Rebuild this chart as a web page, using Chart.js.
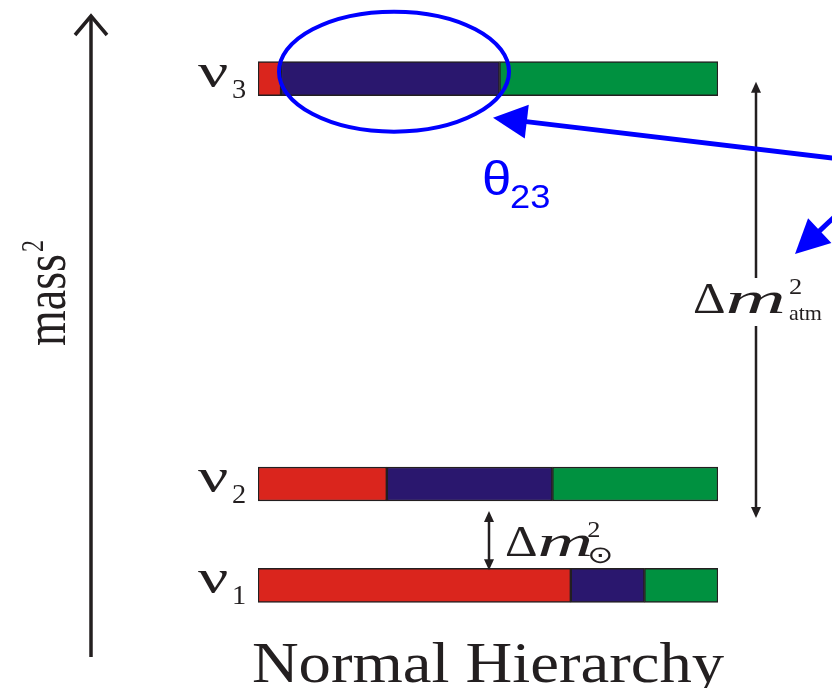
<!DOCTYPE html>
<html>
<head>
<meta charset="utf-8">
<script src="https://cdn.jsdelivr.net/npm/chart.js@4/dist/chart.umd.min.js"></script>
<style>
  body { margin: 0; background: #fff; }
  canvas { display: block; }
</style>
</head>
<body>
<canvas id="chart" width="832" height="688"></canvas>
<script>
// mass eigenstates, their mass² level (arbitrary units) and flavour content
const states = ['1', '2', '3'];
const massLevels = [0, 1, 5];
const eShare = [0.68, 0.28, 0.05];
const muShare = [0.16, 0.36, 0.475];
const tauShare = [0.16, 0.36, 0.475];
const flavourColors = ['#da251d', '#2a176e', '#009140'];

const ink = '#231f20';
const serif = '"Liberation Serif", "DejaVu Serif", serif';

function toPoints(shares) {
    return shares.map((v, i) => ({ x: v, y: massLevels[i] }));
}

function arrowHead(ctx, x, y, dx, dy, len, half) {
    const n = Math.hypot(dx, dy);
    const ux = dx / n, uy = dy / n;
    ctx.beginPath();
    ctx.moveTo(x, y);
    ctx.lineTo(x - ux * len - uy * half, y - uy * len + ux * half);
    ctx.lineTo(x - ux * len + uy * half, y - uy * len - ux * half);
    ctx.closePath();
    ctx.fill();
}

function blueArrow(ctx, x0, y0, x1, y1) {
    const dx = x1 - x0, dy = y1 - y0;
    const n = Math.hypot(dx, dy);
    ctx.beginPath();
    ctx.moveTo(x0, y0);
    ctx.lineTo(x1 - dx / n * 25, y1 - dy / n * 25);
    ctx.stroke();
    arrowHead(ctx, x1, y1, dx, dy, 34, 17);
}

// text stretched horizontally by sx, returns drawn width
function wideText(ctx, s, x, y, font, sx) {
    ctx.font = font;
    ctx.save();
    ctx.translate(x, y);
    ctx.scale(sx, 1);
    ctx.fillText(s, 0, 0);
    ctx.restore();
    return ctx.measureText(s).width * sx;
}

// Δm² label: upright Δ, italic m, superscript 2 and a subscript
function deltaLabel(ctx, x, base, size, mStretch, gap, sub, subFont, subStretch) {
    ctx.textBaseline = 'alphabetic';
    ctx.textAlign = 'left';
    ctx.fillStyle = ink;
    const x2 = x + wideText(ctx, 'Δ', x, base, size + 'px ' + serif, 1.15);
    const x3 = x2 + wideText(ctx, 'm', x2, base, 'italic ' + size + 'px ' + serif, mStretch) + gap;
    wideText(ctx, '2', x3, base - size * 0.44, Math.round(size * 0.55) + 'px ' + serif, 1.1);
    wideText(ctx, sub, x3, base + size * 0.15, subFont, subStretch);
}

const annotations = {
    id: 'annotations',
    afterDatasetsDraw(chart) {
        const ctx = chart.ctx;
        const ys = chart.scales.y;
        const yPix = massLevels.map(v => ys.getPixelForValue(v));
        ctx.save();

        // mass² axis
        ctx.strokeStyle = ink;
        ctx.lineWidth = 3.5;
        ctx.beginPath();
        ctx.moveTo(91, 657);
        ctx.lineTo(91, 16);
        ctx.stroke();
        ctx.beginPath();
        ctx.moveTo(75, 35);
        ctx.lineTo(91, 16);
        ctx.lineTo(107, 35);
        ctx.stroke();

        ctx.save();
        ctx.translate(65, 300);
        ctx.rotate(-Math.PI / 2);
        ctx.scale(1, 1.3);
        ctx.fillStyle = ink;
        ctx.font = '46px ' + serif;
        ctx.textAlign = 'center';
        ctx.fillText('mass', 0, 0);
        const w = ctx.measureText('mass').width;
        ctx.textAlign = 'left';
        ctx.font = '24px ' + serif;
        ctx.fillText('2', w / 2 + 2, -17);
        ctx.restore();

        // state labels ν_i
        ctx.fillStyle = ink;
        ctx.textAlign = 'left';
        states.forEach((s, i) => {
            wideText(ctx, 'ν', 198, yPix[i] + 8, '48px ' + serif, 1.4);
            wideText(ctx, s, 232, yPix[i] + 19, '27px ' + serif, 1.05);
        });

        // atmospheric splitting
        const ax = 756;
        ctx.lineWidth = 2.5;
        ctx.beginPath();
        ctx.moveTo(ax, yPix[2] + 10);
        ctx.lineTo(ax, 278);
        ctx.moveTo(ax, 326);
        ctx.lineTo(ax, yPix[1] + 26);
        ctx.stroke();
        arrowHead(ctx, ax, yPix[2] + 3, 0, -1, 11, 5);
        arrowHead(ctx, ax, yPix[1] + 34, 0, 1, 11, 5);
        deltaLabel(ctx, 693, 313, 44, 1.9, 3, 'atm', '22px ' + serif, 1);

        // solar splitting
        const sx = 489;
        ctx.beginPath();
        ctx.moveTo(sx, yPix[1] + 34);
        ctx.lineTo(sx, yPix[0] - 24);
        ctx.stroke();
        arrowHead(ctx, sx, yPix[1] + 27, 0, -1, 11, 5);
        arrowHead(ctx, sx, yPix[0] - 15, 0, 1, 11, 5);
        deltaLabel(ctx, 505, 556, 44, 1.75, -6, '⊙', '24px "DejaVu Sans", sans-serif', 1.3);

        // θ23 highlight
        ctx.strokeStyle = '#0000ff';
        ctx.fillStyle = '#0000ff';
        ctx.lineWidth = 4;
        ctx.beginPath();
        ctx.ellipse(394, yPix[2] - 7, 115, 60, 0, 0, Math.PI * 2);
        ctx.stroke();
        ctx.lineWidth = 5;
        blueArrow(ctx, 900, 166, 493, yPix[2] + 39);
        blueArrow(ctx, 900, 155, 795, 254);
        wideText(ctx, 'θ', 482, 195, '48px "Liberation Sans", Arial, sans-serif', 1.1);
        wideText(ctx, '23', 510, 208, '33px "Liberation Sans", Arial, sans-serif', 1.1);

        // caption
        ctx.fillStyle = ink;
        ctx.font = '58px ' + serif;
        const cw = ctx.measureText('Normal Hierarchy').width * 1.115;
        wideText(ctx, 'Normal Hierarchy', 488 - cw / 2, 682, '58px ' + serif, 1.115);

        ctx.restore();
    }
};

new Chart(document.getElementById('chart'), {
    type: 'bar',
    data: {
        datasets: [
            { label: 'e', data: toPoints(eShare), backgroundColor: flavourColors[0] },
            { label: 'μ', data: toPoints(muShare), backgroundColor: flavourColors[1] },
            { label: 'τ', data: toPoints(tauShare), backgroundColor: flavourColors[2] },
        ]
    },
    options: {
        indexAxis: 'y',
        responsive: false,
        animation: false,
        layout: { padding: { left: 258, right: 114, top: 28, bottom: 52 } },
        datasets: {
            bar: {
                barThickness: 34,
                borderWidth: 1.5,
                borderColor: ink,
                borderSkipped: false
            }
        },
        scales: {
            x: { type: 'linear', stacked: true, min: 0, max: 1, display: false },
            y: { type: 'linear', stacked: true, min: -0.5, max: 5.5, offset: false, display: false }
        },
        plugins: {
            legend: { display: false },
            tooltip: { enabled: false }
        }
    },
    plugins: [annotations]
});
</script>
</body>
</html>
